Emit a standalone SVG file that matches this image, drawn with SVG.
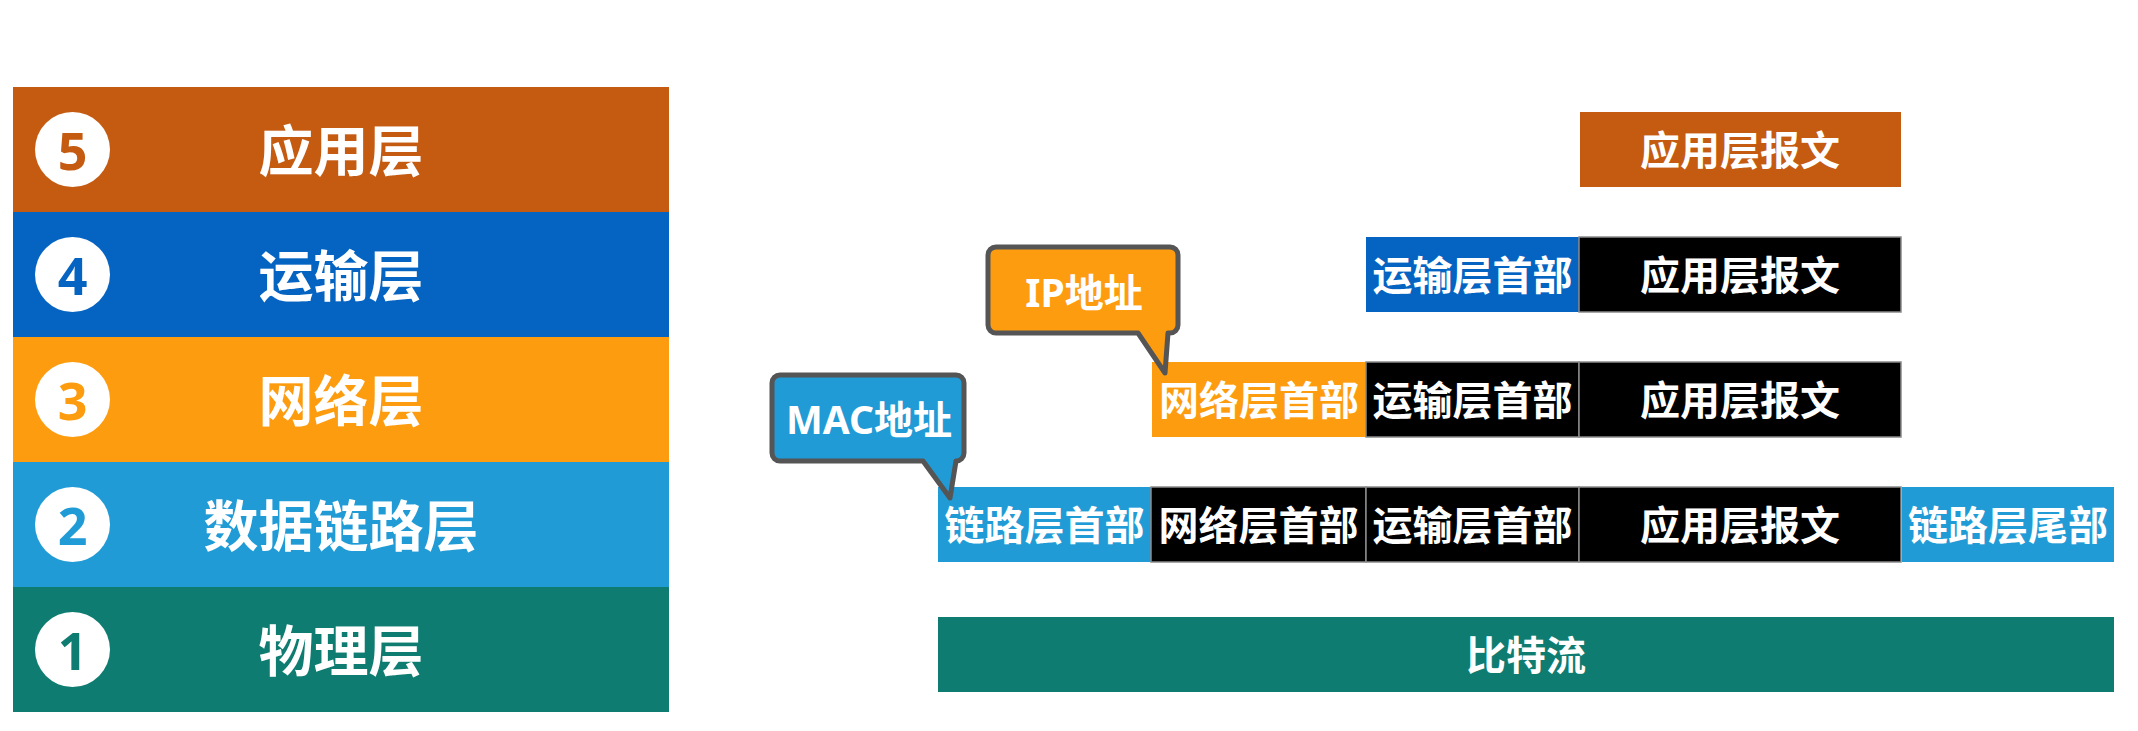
<svg xmlns="http://www.w3.org/2000/svg" width="2138" height="731" viewBox="0 0 2138 731">
  <style>
    .t { font-family: "Noto Sans", "Noto Sans CJK SC", sans-serif; font-weight: bold; fill: #ffffff; text-anchor: middle; dominant-baseline: central; }
    .big { font-size: 55px; }
    .cell { font-size: 40px; }
    .num { font-family: "Noto Sans", "Open Sans", sans-serif; font-weight: bold; font-size: 52px; text-anchor: middle; dominant-baseline: central; }
    .bub { font-size: 39px; }
    .blk { fill: #000000; stroke: #8a8a8a; stroke-width: 1.5; }
    .callout { stroke: #555555; stroke-width: 5; stroke-linejoin: round; }
  </style>
  <rect width="2138" height="731" fill="#ffffff"/>

  <!-- Left: layer stack -->
  <g id="layer5">
    <rect x="13" y="87" width="656" height="125" fill="#C55A11"/>
    <circle cx="72.5" cy="149.5" r="37.5" fill="#ffffff"/>
    <text class="num" x="72.5" y="149.5" fill="#C55A11">5</text>
    <text class="t big" x="341" y="149.5">应用层</text>
  </g>
  <g id="layer4">
    <rect x="13" y="212" width="656" height="125" fill="#0563C1"/>
    <circle cx="72.5" cy="274.5" r="37.5" fill="#ffffff"/>
    <text class="num" x="72.5" y="274.5" fill="#0563C1">4</text>
    <text class="t big" x="341" y="274.5">运输层</text>
  </g>
  <g id="layer3">
    <rect x="13" y="337" width="656" height="125" fill="#FE9C0F"/>
    <circle cx="72.5" cy="399.5" r="37.5" fill="#ffffff"/>
    <text class="num" x="72.5" y="399.5" fill="#FE9C0F">3</text>
    <text class="t big" x="341" y="399.5">网络层</text>
  </g>
  <g id="layer2">
    <rect x="13" y="462" width="656" height="125" fill="#219BD6"/>
    <circle cx="72.5" cy="524.5" r="37.5" fill="#ffffff"/>
    <text class="num" x="72.5" y="524.5" fill="#219BD6">2</text>
    <text class="t big" x="341" y="524.5">数据链路层</text>
  </g>
  <g id="layer1">
    <rect x="13" y="587" width="656" height="125" fill="#0E7C71"/>
    <circle cx="72.5" cy="649.5" r="37.5" fill="#ffffff"/>
    <text class="num" x="72.5" y="649.5" fill="#0E7C71">1</text>
    <text class="t big" x="341" y="649.5">物理层</text>
  </g>

  <!-- Row A: application -->
  <g id="rowA">
    <rect x="1580" y="112" width="321" height="75" fill="#C55A11"/>
    <text class="t cell" x="1740" y="149.5">应用层报文</text>
  </g>

  <!-- Row B: transport -->
  <g id="rowB">
    <rect x="1366" y="237" width="213" height="75" fill="#0563C1"/>
    <text class="t cell" x="1472.5" y="274.5">运输层首部</text>
    <rect class="blk" x="1579" y="237" width="322" height="75"/>
    <text class="t cell" x="1740" y="274.5">应用层报文</text>
  </g>

  <!-- Row C: network -->
  <g id="rowC">
    <rect x="1152" y="362" width="214" height="75" fill="#FE9C0F"/>
    <text class="t cell" x="1259" y="399.5">网络层首部</text>
    <rect class="blk" x="1366" y="362" width="213" height="75"/>
    <text class="t cell" x="1472.5" y="399.5">运输层首部</text>
    <rect class="blk" x="1579" y="362" width="322" height="75"/>
    <text class="t cell" x="1740" y="399.5">应用层报文</text>
  </g>

  <!-- Row D: data link -->
  <g id="rowD">
    <rect x="938" y="487" width="213" height="75" fill="#219BD6"/>
    <text class="t cell" x="1044.5" y="524.5">链路层首部</text>
    <rect class="blk" x="1151" y="487" width="215" height="75"/>
    <text class="t cell" x="1258.5" y="524.5">网络层首部</text>
    <rect class="blk" x="1366" y="487" width="213" height="75"/>
    <text class="t cell" x="1472.5" y="524.5">运输层首部</text>
    <rect class="blk" x="1579" y="487" width="322" height="75"/>
    <text class="t cell" x="1740" y="524.5">应用层报文</text>
    <rect x="1902" y="487" width="212" height="75" fill="#219BD6"/>
    <text class="t cell" x="2008" y="524.5">链路层尾部</text>
  </g>

  <!-- Row E: bit stream -->
  <g id="rowE">
    <rect x="938" y="617" width="1176" height="75" fill="#0E7C71"/>
    <text class="t cell" x="1526" y="654.5">比特流</text>
  </g>

  <!-- Callouts -->
  <g id="callout-ip">
    <path class="callout" fill="#FE9C0F" d="M996,247 H1170 A8,8 0 0 1 1178,255 V325 A8,8 0 0 1 1170,333 L1168,333 L1165,373 L1138,333 H996 A8,8 0 0 1 988,325 V255 A8,8 0 0 1 996,247 Z"/>
    <text class="t bub" x="1084" y="291">IP地址</text>
  </g>
  <g id="callout-mac">
    <path class="callout" fill="#219BD6" d="M780,375 H956 A8,8 0 0 1 964,383 V453 A8,8 0 0 1 956,461 L956,461 L950,498 L923,461 H780 A8,8 0 0 1 772,453 V383 A8,8 0 0 1 780,375 Z"/>
    <text class="t bub" x="869" y="418">MAC地址</text>
  </g>
</svg>
